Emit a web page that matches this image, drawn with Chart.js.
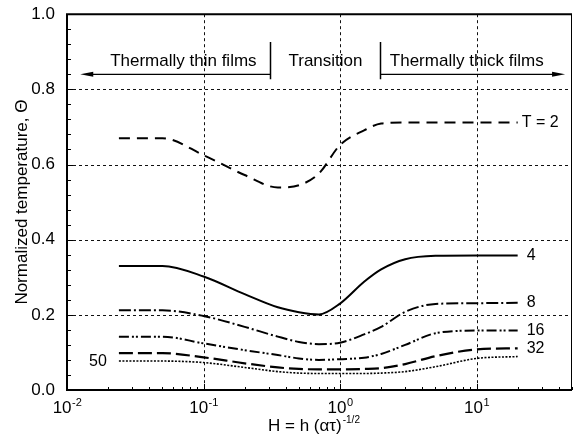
<!DOCTYPE html>
<html>
<head>
<meta charset="utf-8">
<script src="https://cdn.jsdelivr.net/npm/chart.js@4/dist/chart.umd.min.js"></script>
<style>
  html, body { margin: 0; padding: 0; background: #fff; }
  canvas { display: block; }
</style>
</head>
<body>
<canvas id="tempChart" width="573" height="434"></canvas>
<script>
// dimensionless film thickness H, shared by every curve
const hValues = [0.024, 0.05, 0.1, 0.2, 0.35, 0.5, 0.7, 1, 1.5, 2, 3, 5, 10, 20];

const theta2 = [0.67, 0.67, 0.625, 0.572, 0.539, 0.545, 0.576, 0.652, 0.691, 0.709, 0.712, 0.712, 0.712, 0.712];
const theta4 = [0.33, 0.33, 0.302, 0.255, 0.22, 0.207, 0.201, 0.23, 0.288, 0.321, 0.348, 0.357, 0.358, 0.358];
const theta8 = [0.212, 0.212, 0.197, 0.168, 0.142, 0.128, 0.122, 0.126, 0.148, 0.168, 0.208, 0.229, 0.231, 0.232];
const theta16 = [0.142, 0.142, 0.124, 0.106, 0.093, 0.084, 0.08, 0.082, 0.086, 0.096, 0.12, 0.151, 0.158, 0.158];
const theta32 = [0.098, 0.098, 0.087, 0.071, 0.06, 0.056, 0.055, 0.055, 0.056, 0.058, 0.069, 0.09, 0.108, 0.111];
const theta50 = [0.077, 0.077, 0.073, 0.06, 0.049, 0.045, 0.044, 0.044, 0.044, 0.045, 0.049, 0.062, 0.084, 0.089];

const curveLabels = ['T = 2', '4', '8', '16', '32', '50'];
const yTicks = [0, 0.2, 0.4, 0.6, 0.8, 1.0];
const xDecades = [-2, -1, 0, 1];

const FONT = '"Liberation Sans", Arial, Helvetica, sans-serif';

function toPoints(ys) {
  return hValues.map((h, i) => ({ x: h, y: ys[i] }));
}

function series(ys, dash, width) {
  return {
    data: toPoints(ys),
    borderColor: '#000',
    borderWidth: width,
    borderDash: dash,
    pointRadius: 0,
    fill: false,
    cubicInterpolationMode: 'monotone'
  };
}

const datasets = [
  series(theta2, [11, 7], 2),
  series(theta4, [], 2),
  series(theta8, [12, 3, 2, 3], 2),
  series(theta16, [10, 3, 2, 2, 2, 3], 2),
  series(theta32, [14, 5], 2.2),
  series(theta50, [2, 1.5], 1.6)
];

function drawArrowHead(ctx, x, y, dir) {
  ctx.beginPath();
  ctx.moveTo(x, y);
  ctx.lineTo(x - dir * 13, y - 2.5);
  ctx.lineTo(x - dir * 13, y + 2.5);
  ctx.closePath();
  ctx.fill();
}

function drawPow(ctx, cx, baseline, exp, size, supSize) {
  ctx.font = size + 'px ' + FONT;
  const wb = ctx.measureText('10').width;
  ctx.font = supSize + 'px ' + FONT;
  const we = ctx.measureText(exp).width;
  const x0 = cx - (wb + we) / 2;
  ctx.textAlign = 'left';
  ctx.textBaseline = 'alphabetic';
  ctx.font = size + 'px ' + FONT;
  ctx.fillText('10', x0, baseline);
  ctx.font = supSize + 'px ' + FONT;
  ctx.fillText(exp, x0 + wb + 0.5, baseline - 7);
}

const framePlugin = {
  id: 'frame',
  beforeDatasetsDraw(chart) {
    const { ctx, chartArea: a, scales: { x, y } } = chart;
    ctx.save();
    ctx.strokeStyle = '#111';
    ctx.lineWidth = 1;
    ctx.setLineDash([3, 3]);
    yTicks.slice(1, -1).forEach(v => {
      const py = Math.round(y.getPixelForValue(v)) + 0.5;
      ctx.beginPath();
      ctx.moveTo(a.left, py);
      ctx.lineTo(a.right, py);
      ctx.stroke();
    });
    xDecades.slice(1).forEach(d => {
      const px = Math.round(x.getPixelForValue(Math.pow(10, d))) + 0.5;
      ctx.beginPath();
      ctx.moveTo(px, a.top);
      ctx.lineTo(px, a.bottom);
      ctx.stroke();
    });
    ctx.restore();
  },
  afterDatasetsDraw(chart) {
    const { ctx, chartArea: a, scales: { x, y } } = chart;
    ctx.save();
    ctx.strokeStyle = '#000';
    ctx.fillStyle = '#000';
    ctx.setLineDash([]);

    // box
    ctx.lineWidth = 2;
    ctx.beginPath();
    ctx.moveTo(a.right, a.top);
    ctx.lineTo(a.left, a.top);
    ctx.lineTo(a.left, a.bottom);
    ctx.lineTo(a.right, a.bottom);
    ctx.stroke();
    ctx.lineWidth = 1;
    ctx.beginPath();
    ctx.moveTo(a.right - 0.5, a.top);
    ctx.lineTo(a.right - 0.5, a.bottom);
    ctx.stroke();

    // minor ticks, inward
    ctx.lineWidth = 1;
    for (let i = 1; i < 25; i++) {
      const py = Math.round(y.getPixelForValue(i * 0.04)) + 0.5;
      const len = i % 5 === 0 ? 6 : 4;
      ctx.beginPath();
      ctx.moveTo(a.left, py);
      ctx.lineTo(a.left + len, py);
      ctx.stroke();
    }
    for (let d = -2; d <= 1; d++) {
      for (let k = 1; k <= 9; k++) {
        const v = k * Math.pow(10, d);
        if (v > 50) break;
        const px = Math.round(x.getPixelForValue(v)) + 0.5;
        const len = k === 1 ? 6 : 3;
        ctx.beginPath();
        ctx.moveTo(px, a.bottom);
        ctx.lineTo(px, a.bottom - len);
        ctx.stroke();
      }
    }

    // x tick labels with superscripts
    ctx.fillStyle = '#000';
    xDecades.forEach(d => {
      const px = x.getPixelForValue(Math.pow(10, d));
      drawPow(ctx, px, a.bottom + 23, String(d), 17, 11);
    });

    // x axis title
    const base = 'H = h (\u03b1\u03c4)';
    const sup = '-1/2';
    ctx.font = '17px ' + FONT;
    const wb = ctx.measureText(base).width;
    ctx.font = '10px ' + FONT;
    const ws = ctx.measureText(sup).width;
    const tx = (a.left + a.right) / 2 - (wb + ws) / 2 - 6;
    ctx.textAlign = 'left';
    ctx.textBaseline = 'alphabetic';
    ctx.font = '17px ' + FONT;
    ctx.fillText(base, tx, a.bottom + 41);
    ctx.font = '10px ' + FONT;
    ctx.fillText(sup, tx + wb + 1, a.bottom + 33);

    // regime annotations
    const ay = y.getPixelForValue(0.84);
    const xl = x.getPixelForValue(0.0125);
    const xb1 = Math.round(x.getPixelForValue(0.307)) + 0.5;
    const xb2 = Math.round(x.getPixelForValue(1.96)) + 0.5;
    const xr = x.getPixelForValue(44.5);
    const barTop = y.getPixelForValue(0.926);
    const barBot = y.getPixelForValue(0.827);
    ctx.lineWidth = 1.2;
    ctx.beginPath();
    ctx.moveTo(xl + 6, ay);
    ctx.lineTo(xb1, ay);
    ctx.moveTo(xb2, ay);
    ctx.lineTo(xr - 6, ay);
    ctx.stroke();
    ctx.lineWidth = 1.5;
    ctx.beginPath();
    ctx.moveTo(xb1, barTop);
    ctx.lineTo(xb1, barBot);
    ctx.moveTo(xb2, barTop);
    ctx.lineTo(xb2, barBot);
    ctx.stroke();
    drawArrowHead(ctx, xl, ay, -1);
    drawArrowHead(ctx, xr, ay, 1);

    ctx.font = '17px ' + FONT;
    ctx.textAlign = 'center';
    ctx.textBaseline = 'alphabetic';
    const textY = ay - 8;
    ctx.fillText('Thermally thin films', (xl + xb1) / 2 + 8, textY);
    ctx.fillText('Transition', (xb1 + xb2) / 2, textY);
    ctx.fillText('Thermally thick films', (xb2 + xr) / 2 - 6, textY);

    // curve labels
    ctx.font = '16px ' + FONT;
    ctx.textBaseline = 'middle';
    chart.data.datasets.forEach((ds, i) => {
      const meta = chart.getDatasetMeta(i);
      if (i === 5) {
        const p = meta.data[0];
        ctx.textAlign = 'right';
        ctx.fillText(curveLabels[i], p.x - 12, p.y + 1);
      } else {
        const p = meta.data[meta.data.length - 1];
        ctx.textAlign = 'left';
        ctx.fillText(curveLabels[i], p.x + (i === 0 ? 4 : 9), p.y);
      }
    });
    ctx.restore();
  }
};

const ctx = document.getElementById('tempChart').getContext('2d');
new Chart(ctx, {
  type: 'line',
  data: { datasets },
  options: {
    responsive: false,
    animation: false,
    layout: { padding: { top: 14, right: 1, left: 0, bottom: 0 } },
    plugins: { legend: { display: false }, tooltip: { enabled: false } },
    scales: {
      x: {
        type: 'logarithmic',
        min: 0.01,
        max: 50,
        grid: { display: false },
        border: { display: false },
        ticks: { display: false },
        afterFit: s => { s.height = 44; }
      },
      y: {
        min: 0,
        max: 1,
        grid: { display: false },
        border: { display: false },
        ticks: {
          stepSize: 0.2,
          padding: 4,
          color: '#000',
          font: { family: FONT, size: 17 },
          callback: v => Number(v).toFixed(1)
        },
        title: {
          display: true,
          text: 'Normalized temperature, \u0398',
          color: '#000',
          font: { family: FONT, size: 17 },
          padding: { top: 12, bottom: 0 }
        },
        afterFit: s => { s.width = 67; }
      }
    }
  },
  plugins: [framePlugin]
});
</script>
</body>
</html>
